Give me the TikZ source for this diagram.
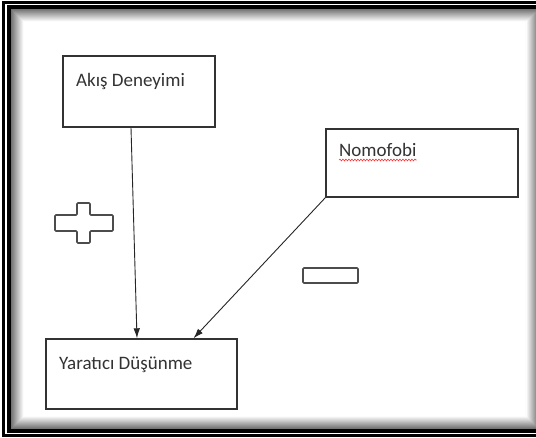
\documentclass[tikz,border=0pt]{standalone}
\usepackage{fontspec}
\setmainfont{Carlito}
\usetikzlibrary{arrows.meta,decorations.pathmorphing}
\tikzset{
  box/.style={draw=black!80, line width=1.4pt, inner sep=0pt, fill=white},
  lbl/.style={anchor=base west, inner sep=0pt, text=black!80, font=\fontsize{19}{22}\selectfont},
  conn/.style={draw=black!85, line width=0.9pt, -{Latex[length=10pt,width=6.5pt]}},
  sign/.style={draw=black!70, line width=1.6pt, rounded corners=1pt, fill=white}
}
\begin{document}
\begin{tikzpicture}[x=1pt,y=-1pt]
\clip (0,0) rectangle (536,437);
\fill[white] (0,0) rectangle (536,437);
% inner shadow
\foreach \i in {0,...,12}{
  \pgfmathsetmacro{\g}{max(0,55-4.5*\i)}
  \draw[line width=1.1pt, draw=black!\g] (11.5+\i,9.5+\i) rectangle (538-\i,428.5-\i);
}
% frame
\draw[line width=3pt] (3.5,2.5) rectangle (560,435);
\draw[line width=4pt] (9,7) rectangle (560,431);
\draw[line width=0.8pt, white] (6,4.8) rectangle (560,433.5);
% boxes
\node[box, minimum width=152pt, minimum height=71pt] (akis) at (139,91.5) {};
\node[box, minimum width=192pt, minimum height=68pt] (nomo) at (422,163) {};
\node[box, minimum width=191pt, minimum height=70pt] (yar) at (141.5,374) {};
\node[lbl] (akist) at (76,86) {Akış Deneyimi};
\node[lbl] (nomot) at (339,156) {Nomofobi};
\node[lbl] (yart) at (59,369) {Yaratıcı Düşünme};
\draw[red!80, line width=0.6pt, decorate, decoration={snake, segment length=3pt, amplitude=0.9pt}]
  ([yshift=-4pt]nomot.base west) -- ([yshift=-4pt]nomot.base east);
% connectors
\draw[conn] ([xshift=-8pt]akis.south) -- ([xshift=-4.5pt]yar.north);
\draw[conn] (nomo.south west) -- ([xshift=52pt]yar.north);
% plus sign
\draw[sign] (77,203) -- (90,203) -- (90,215) -- (113,215) -- (113,231) -- (90,231)
  -- (90,243) -- (77,243) -- (77,231) -- (55,231) -- (55,215) -- (77,215) -- cycle;
% minus sign
\draw[sign] (303,268) rectangle (358,283);
\end{tikzpicture}
\end{document}
